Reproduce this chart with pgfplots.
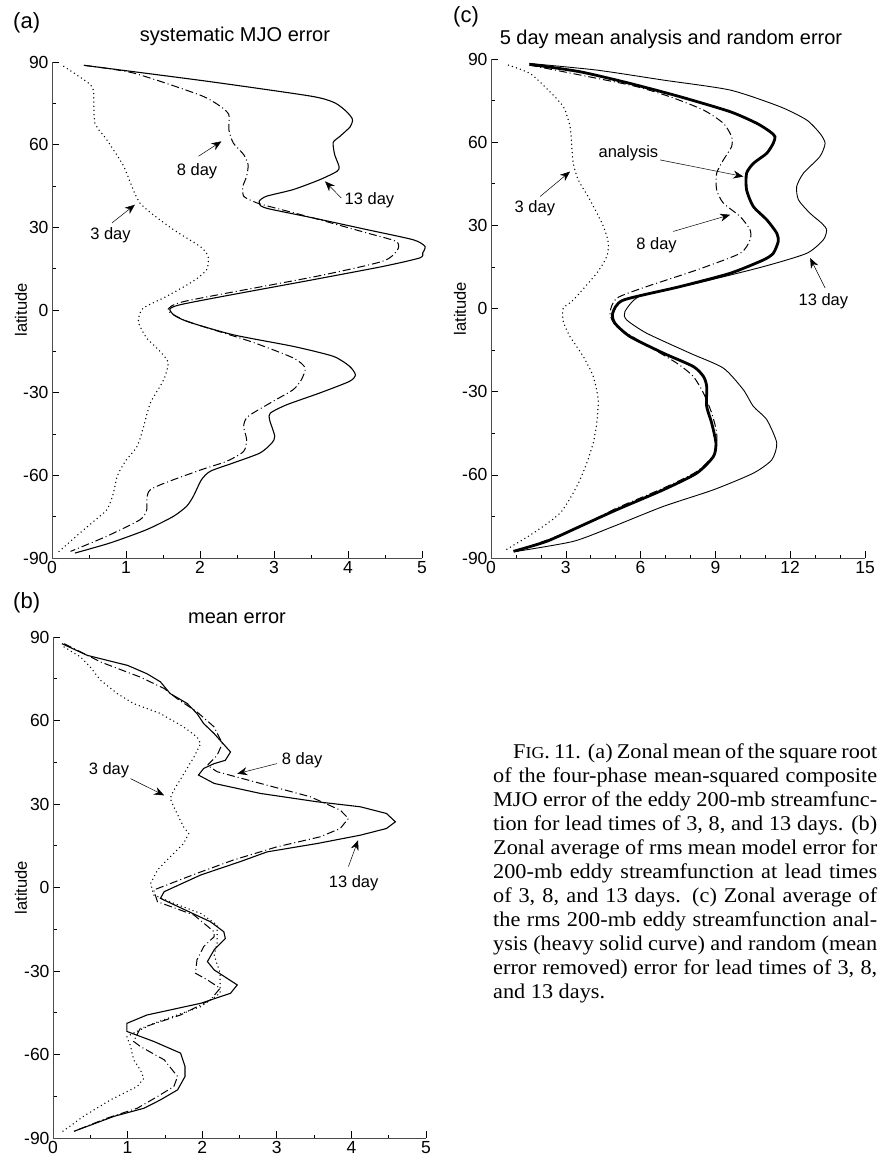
\documentclass[border=0pt]{standalone}
\usepackage{fontspec}
\setmainfont{Liberation Sans}
\newfontfamily\capfont[FakeStretch=1.06]{Liberation Serif}
\usepackage{pgfplots}
\pgfplotsset{compat=1.18}
\usetikzlibrary{arrows.meta}
\newcommand\tfont{\fontsize{17.5}{18}\selectfont}
\newcommand\afont{\fontsize{16.5}{17}\selectfont}
\newcommand\ttfont{\fontsize{20}{21}\selectfont}
\newcommand\pfont{\fontsize{22}{23}\selectfont}
\newcommand\cfont{\capfont\fontsize{21}{24}\selectfont}
\tikzset{arr/.style={-{Stealth[length=10pt,width=8pt]}, line width=0.5pt}}
\pgfplotsset{
  panel/.style={
    scale only axis, axis lines*=left, clip=false,
    xmin=0, ymin=-90, ymax=90,
    ytick={-90,-60,-30,0,30,60,90},
    yticklabels={-90,-60,-30,0,30,60,90},
    minor y tick num=1,
    tick align=inside,
    major tick length=7pt, minor tick length=3.5pt,
    tick style={black, line width=0.6pt},
    axis line style={black!70, line width=0.8pt},
    tick label style={font=\tfont},
    /pgf/number format/assume math mode=true,
    ylabel={latitude},
    ylabel style={font=\afont, anchor=center},
  },
  d13/.style={black, line width=1.1pt},
  d8/.style={black, line width=1pt, dash pattern=on 8pt off 3pt on 1pt off 3pt},
  d3/.style={black, line width=1.5pt, line cap=round, dash pattern=on 0pt off 4.2pt},
  ana/.style={black, line width=2.8pt},
}
\begin{document}
\begin{tikzpicture}
\useasboundingbox (0pt,0pt) rectangle (878pt,-1162pt);
% panel labels and titles
\node[anchor=base west, inner sep=0pt, font=\pfont] at (13pt,-28.5pt) {(a)};
\node[anchor=base west, inner sep=0pt, font=\pfont] at (13pt,-608.5pt) {(b)};
\node[anchor=base west, inner sep=0pt, font=\pfont] at (453pt,-22pt) {(c)};
\node[anchor=base, inner sep=0pt, font=\ttfont] at (235pt,-41pt) {systematic MJO error};
\node[anchor=base, inner sep=0pt, font=\ttfont] at (237pt,-623pt) {mean error};
\node[anchor=base, inner sep=0pt, font=\ttfont] at (671pt,-44pt) {5 day mean analysis and random error};

% ---------------- panel (a)
\begin{axis}[panel, at={(52pt,-558pt)}, anchor=south west, width=370pt, height=496pt,
  xmax=5, xtick={0,1,2,3,4,5}, minor x tick num=1,
  ylabel style={at={(axis description cs:-0.084,0.5)}}]
\addplot[d13, smooth, tension=0.4] coordinates {
(0.43,88.8) (2.1,83.0) (3.5,77.6) (3.82,75.2) (3.98,72) (4.06,69.2) (4.03,66.5) (3.89,63) (3.8,60.8) (3.82,56.4) (3.88,52) (3.85,50.3) (3.62,47.3) (3.26,43.7) (2.9,41.3) (2.8,39.5) (2.82,37.8) (2.95,36.6) (3.53,33.4) (4.25,29.2) (4.88,25.5) (5.04,23.1) (5.01,20.7) (4.97,18.9) (4.47,15.8) (3.53,11) (1.73,1.9) (1.62,-1.1) (1.82,-4.1) (2.45,-9) (3.26,-13.2) (3.8,-16.8) (4.02,-20.4) (4.1,-23.5) (4.02,-25.9) (3.62,-30.1) (3.17,-34.4) (2.95,-37.4) (2.94,-39.8) (3.01,-45.8) (2.97,-48.3) (2.81,-51.9) (2.45,-55.5) (2.14,-58.5) (2.02,-61.6) (1.91,-67.6) (1.82,-71.2) (1.64,-74.9) (1.28,-79.7) (0.79,-84.5) (0.31,-88.2)};
\addplot[d8, smooth, tension=0.4] coordinates {
(0.43,88.8) (1.1,86) (2.0,78) (2.27,74) (2.39,70.9) (2.39,65.4) (2.45,60.6) (2.59,56.4) (2.65,52.7) (2.63,48.5) (2.58,44.9) (2.59,41.3) (2.72,39.4) (2.85,38.2) (3.53,33.4) (4.25,28) (4.65,24.9) (4.67,21.9) (4.47,17.7) (3.57,12.2) (1.82,3.3) (1.57,0.3) (1.64,-1.7) (1.89,-4.7) (2.68,-11.4) (3.26,-17.4) (3.42,-21) (3.37,-25.3) (3.26,-28.9) (2.99,-33.1) (2.65,-38.6) (2.59,-42.2) (2.63,-47) (2.59,-51.3) (2.36,-54.9) (1.96,-58.5) (1.33,-65.2) (1.28,-72.5) (1.19,-76.1) (0.74,-82.1) (0.25,-87.6)};
\addplot[d3, smooth, tension=0.4] coordinates {
(0.16,88.4) (0.49,82.4) (0.56,79.4) (0.58,67.9) (0.74,61.8) (0.97,52.1) (1.19,38.8) (1.64,29.2) (2.0,23.1) (2.11,19.5) (2.09,14.6) (1.91,10.5) (1.55,5) (1.25,1) (1.19,-1.1) (1.17,-4.7) (1.28,-10.2) (1.46,-15) (1.57,-19.2) (1.51,-25.3) (1.33,-33.7) (1.24,-42.2) (1.15,-49.5) (0.99,-54.9) (0.88,-60.4) (0.83,-66.4) (0.74,-72.5) (0.43,-79.7) (0.07,-88.2)};
\node[font=\afont] at (axis cs:1.96,50.3) {8 day};
\draw[arr] (axis cs:1.98,55.8) -- (axis cs:2.29,61.2);
\node[font=\afont] at (axis cs:4.29,40) {13 day};
\draw[arr] (axis cs:3.91,40.6) -- (axis cs:3.69,46.7);
\node[font=\afont] at (axis cs:0.79,27.3) {3 day};
\draw[arr] (axis cs:0.81,31.6) -- (axis cs:1.12,38.2);
\end{axis}

% ---------------- panel (b)
\begin{axis}[panel, at={(53pt,-1138pt)}, anchor=south west, width=373pt, height=501pt,
  xmax=5, xtick={0,1,2,3,4,5}, minor x tick num=1,
  ylabel style={at={(axis description cs:-0.086,0.5)}}]
\addplot[d13] coordinates {
(0.12,87.6) (0.46,83.4) (1.0,79.8) (1.26,76.8) (1.44,73.9) (1.57,69.7) (1.8,66.1) (1.93,62.5) (2.02,58.9) (2.16,55.3) (2.24,52.9) (2.38,48.7) (2.31,45.7) (2.16,44.5) (2.02,42.8) (1.95,40.4) (2.16,37.4) (2.78,33.8) (3.54,30.8) (4.12,29) (4.47,26.6) (4.59,23.6) (4.47,21.2) (4.12,18.8) (3.54,15.8) (2.87,12.8) (2.51,9.3) (1.98,4.5) (1.49,-1.5) (1.44,-3.9) (2.11,-12.3) (2.29,-15.9) (2.31,-18.3) (2.16,-22.4) (2.07,-26.6) (2.16,-29.6) (2.47,-35) (2.38,-38) (1.98,-41.6) (1.26,-45.8) (0.99,-48.8) (0.99,-51.7) (1.35,-55.3) (1.71,-59.5) (1.77,-64.3) (1.77,-67.9) (1.67,-72.7) (1.44,-76.3) (1.22,-79.3) (0.82,-82.2) (0.28,-87.6)};
\addplot[d8] coordinates {
(0.15,87.6) (0.64,81) (1.17,75.6) (1.49,71.5) (1.66,67.9) (1.93,63.1) (2.16,57.7) (2.27,51.7) (2.2,47.5) (2.07,43.9) (2.2,41.6) (2.78,37.4) (3.45,32.6) (3.85,27.8) (3.96,24.8) (3.85,21.2) (3.58,18.2) (3.0,14.6) (2.42,9.9) (1.93,5.1) (1.35,-0.9) (1.40,-5.1) (1.89,-9.9) (2.16,-15.9) (2.16,-17.7) (2.02,-21.2) (1.93,-26) (1.91,-30.8) (2.07,-33.2) (2.24,-36.2) (2.11,-40.4) (1.71,-45.8) (1.17,-50.6) (1.08,-55.3) (1.17,-57.1) (1.49,-61.9) (1.67,-67.9) (1.62,-71.5) (1.4,-75.1) (1.13,-79.3) (0.73,-82.8) (0.28,-87.6)};
\addplot[d3] coordinates {
(0.15,86.4) (0.37,82.8) (0.5,79.2) (0.64,74.4) (0.86,69.7) (1.08,66.1) (1.44,62.5) (1.75,57.7) (1.93,54.1) (1.98,51.7) (1.89,46.9) (1.73,39.8) (1.62,35) (1.57,32) (1.64,27.8) (1.75,21.8) (1.82,19.4) (1.75,15.8) (1.57,11) (1.40,6.3) (1.31,1.5) (1.35,-2.7) (1.62,-5.7) (1.98,-9.3) (2.2,-13.5) (2.2,-20.1) (2.16,-24.2) (2.24,-30.8) (2.24,-38) (1.98,-42.8) (1.35,-48.8) (0.99,-53.5) (1.04,-57.1) (1.08,-61.9) (1.17,-65.5) (1.22,-68.5) (1.13,-71.5) (0.77,-76.3) (0.41,-82.2) (0.1,-88.2)};
\node[font=\afont] at (axis cs:3.34,45.7) {8 day};
\draw[arr] (axis cs:3.0,44.5) -- (axis cs:2.47,40.9);
\node[font=\afont] at (axis cs:0.75,42.1) {3 day};
\draw[arr] (axis cs:1.04,39.1) -- (axis cs:1.49,33.1);
\node[font=\afont] at (axis cs:4.03,1.7) {13 day};
\draw[arr] (axis cs:3.96,7.5) -- (axis cs:4.09,17.0);
\end{axis}

% ---------------- panel (c)
\begin{axis}[panel, at={(491pt,-558pt)}, anchor=south west, width=374pt, height=499pt,
  xmax=15, xtick={0,3,6,9,12,15}, minor x tick num=2,
  ylabel style={at={(axis description cs:-0.083,0.5)}}]
\addplot[d13, line width=0.9pt, smooth, tension=0.4] coordinates {
(1.54,88.4) (4.24,86) (6.91,82.4) (9.59,78.8) (11.59,72.8) (12.66,68) (13.19,63.2) (13.4,59.6) (13.19,54.8) (12.53,48.8) (12.26,44) (12.33,39.2) (12.79,34.4) (13.26,30.8) (13.46,28.4) (13.33,24.8) (12.66,19.9) (10.92,15.1) (8.25,9.1) (6.0,4.6) (5.37,-1.1) (5.44,-4.1) (6.24,-8.9) (7.98,-16.1) (9.32,-21.5) (10.12,-29.3) (10.52,-35.3) (11.06,-40.1) (11.46,-48.5) (11.26,-54.6) (10.52,-59.4) (8.92,-65.4) (6.91,-71.4) (4.91,-78.6) (3.3,-84) (1.03,-87.6)};
\addplot[d8, smooth, tension=0.4] coordinates {
(1.54,87.8) (5.57,80.6) (7.17,76.4) (8.52,71.6) (9.32,66.8) (9.65,62) (9.65,58.4) (9.32,53.6) (9.05,48.8) (9.05,42.8) (9.32,38) (9.99,33.2) (10.39,28.4) (10.39,24.8) (9.99,19.9) (8.25,13.9) (6.24,7.9) (5.04,3.7) (4.77,-1.7) (5.04,-6.5) (6.11,-12.5) (7.45,-19.7) (8.11,-24.5) (8.52,-30.5) (8.85,-37.7) (9.05,-44.9) (8.98,-52.2) (8.25,-58.8) (6.91,-64.8) (5.04,-72) (3.3,-79.8) (1.03,-87.6)};
\addplot[d3, smooth, tension=0.4] coordinates {
(0.7,87.8) (1.56,84.8) (2.23,79.4) (2.9,72.8) (3.17,65.6) (3.24,58.4) (3.3,52.4) (3.5,46.4) (3.97,39.2) (4.51,29.6) (4.71,23.5) (4.64,18.7) (4.24,12.7) (3.3,3.1) (2.9,0.1) (2.9,-4.7) (3.17,-10.1) (3.7,-17.3) (4.1,-24.5) (4.3,-32.9) (4.24,-41.3) (4.1,-48.5) (3.84,-55.8) (3.44,-64.2) (2.77,-73.8) (1.7,-81) (0.49,-87.6)};
\addplot[ana, smooth, tension=0.4] coordinates {
(1.54,88.1) (3.57,85.4) (5.57,81.2) (7.58,76.4) (9.59,71) (10.66,66.8) (11.19,63.8) (11.39,62) (11.32,59.6) (11.06,56) (10.53,52.4) (10.25,48.8) (10.25,42.8) (10.52,36.8) (11.06,32) (11.46,27.2) (11.52,24.2) (11.32,19.9) (10.92,17.5) (9.59,12.7) (7.58,7.9) (5.3,3) (4.88,-1.7) (4.97,-5.3) (5.57,-10.1) (6.91,-16.1) (8.11,-20.9) (8.52,-24.5) (8.65,-28.1) (8.65,-35.3) (8.85,-41.3) (9.02,-48.5) (8.92,-53.4) (8.25,-59.4) (6.91,-65.4) (5.04,-72.6) (3.57,-78.6) (2.23,-84) (0.9,-87.6)};
\node[font=\afont] at (axis cs:5.51,56) {analysis};
\draw[arr] (axis cs:6.78,53.6) -- (axis cs:10.12,47.6);
\node[font=\afont] at (axis cs:1.76,36.2) {3 day};
\draw[arr] (axis cs:1.97,40.4) -- (axis cs:3.17,49.4);
\node[font=\afont] at (axis cs:6.64,22.9) {8 day};
\draw[arr] (axis cs:7.31,27.8) -- (axis cs:9.59,33.8);
\node[font=\afont] at (axis cs:13.33,2.5) {13 day};
\draw[arr] (axis cs:13.4,7.4) -- (axis cs:12.8,18.2);
\end{axis}

% ---------------- caption
\node[anchor=base west, inner sep=0pt, font=\cfont] at (513pt,-758pt) {\makebox[364pt][s]{F{\fontsize{16.8}{24}\selectfont IG}. 11. (a) Zonal mean of the square root}};
\node[anchor=base west, inner sep=0pt, font=\cfont] at (493pt,-782pt) {\makebox[384pt][s]{of the four-phase mean-squared composite}};
\node[anchor=base west, inner sep=0pt, font=\cfont] at (493pt,-806pt) {\makebox[384pt][s]{MJO error of the eddy 200-mb streamfunc-}};
\node[anchor=base west, inner sep=0pt, font=\cfont] at (493pt,-830pt) {\makebox[384pt][s]{tion for lead times of 3, 8, and 13 days. (b)}};
\node[anchor=base west, inner sep=0pt, font=\cfont] at (493pt,-854pt) {\makebox[384pt][s]{Zonal average of rms mean model error for}};
\node[anchor=base west, inner sep=0pt, font=\cfont] at (493pt,-878pt) {\makebox[384pt][s]{200-mb eddy streamfunction at lead times}};
\node[anchor=base west, inner sep=0pt, font=\cfont] at (493pt,-902pt) {\makebox[384pt][s]{of 3, 8, and 13 days. (c) Zonal average of}};
\node[anchor=base west, inner sep=0pt, font=\cfont] at (493pt,-926pt) {\makebox[384pt][s]{the rms 200-mb eddy streamfunction anal-}};
\node[anchor=base west, inner sep=0pt, font=\cfont] at (493pt,-950pt) {\makebox[384pt][s]{ysis (heavy solid curve) and random (mean}};
\node[anchor=base west, inner sep=0pt, font=\cfont] at (493pt,-974pt) {\makebox[384pt][s]{error removed) error for lead times of 3, 8,}};
\node[anchor=base west, inner sep=0pt, font=\cfont] at (493pt,-998pt) {and 13 days.};
\end{tikzpicture}
\end{document}
